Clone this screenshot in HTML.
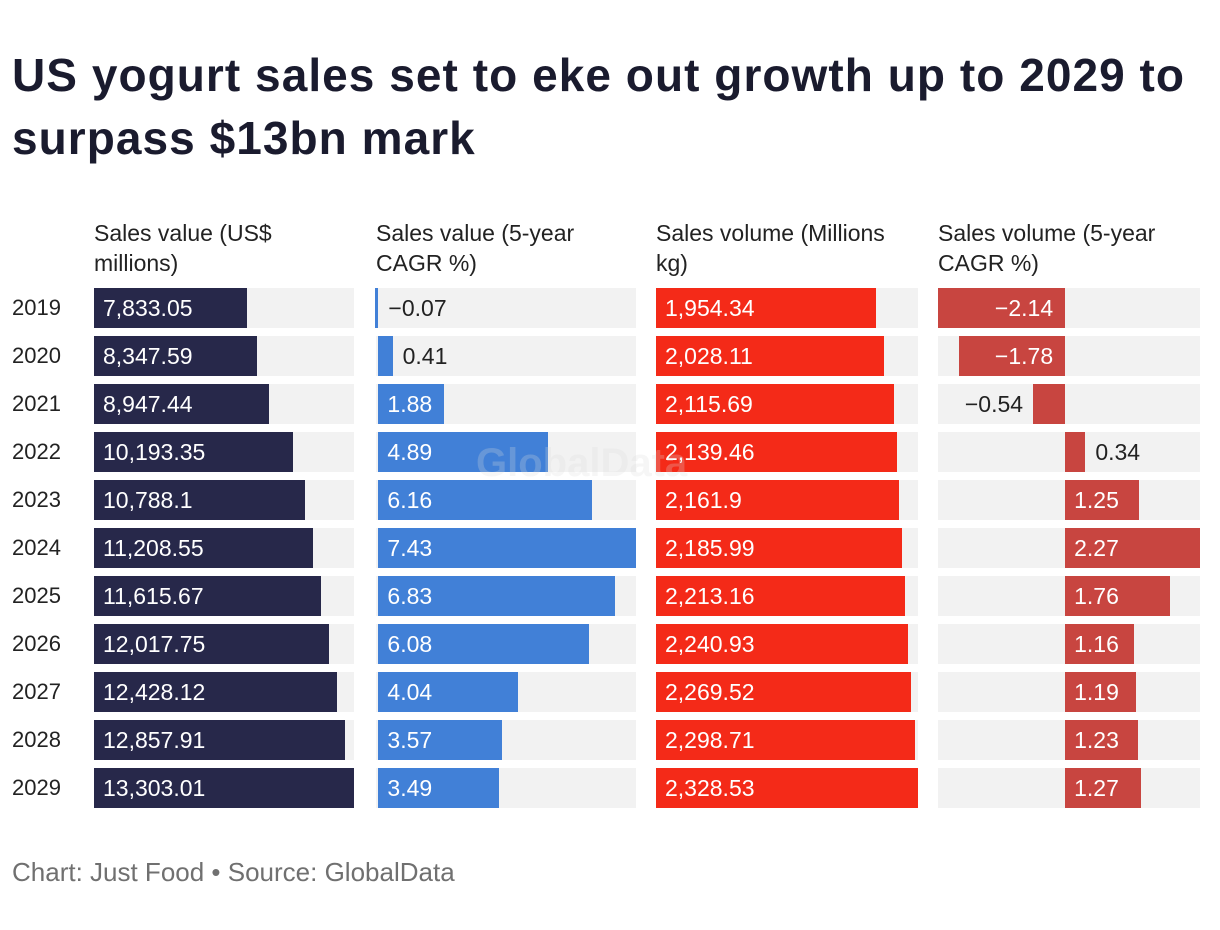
<!DOCTYPE html>
<html><head><meta charset="utf-8">
<style>
body{margin:0;background:#fff;font-family:"Liberation Sans",sans-serif;color:#222;}
#wrap{position:relative;width:1220px;height:930px;overflow:hidden;}
h1{position:absolute;left:12px;top:44px;margin:0;font-size:46px;line-height:63px;font-weight:bold;color:#1a1b2e;letter-spacing:1.05px;width:1210px;white-space:nowrap;}
.hdr{position:absolute;top:218px;font-size:23px;line-height:30px;color:#222;width:270px;white-space:nowrap;}
.yr{position:absolute;left:12px;font-size:22px;line-height:40px;color:#222;}
.bg{position:absolute;height:40px;background:#f2f2f2;}
.bar{position:absolute;height:40px;}
.lbl{position:absolute;font-size:23px;line-height:40px;white-space:nowrap;}
#foot{position:absolute;left:12px;top:857px;font-size:26px;color:#707070;}
#wm{position:absolute;left:476px;top:441px;font-size:40px;font-weight:bold;color:rgba(220,220,220,0.25);z-index:5;}
</style></head><body>
<div id="wrap">
<h1>US yogurt sales set to eke out growth up to 2029 to<br>surpass $13bn mark</h1>
<div id="wm">GlobalData</div>
<div id="foot">Chart: Just Food • Source: GlobalData</div>
</div>
<script>
const years=["2019","2020","2021","2022","2023","2024","2025","2026","2027","2028","2029"];
const salesValue=[7833.05,8347.59,8947.44,10193.35,10788.1,11208.55,11615.67,12017.75,12428.12,12857.91,13303.01];
const salesValueCagr=[-0.07,0.41,1.88,4.89,6.16,7.43,6.83,6.08,4.04,3.57,3.49];
const salesVolume=[1954.34,2028.11,2115.69,2139.46,2161.9,2185.99,2213.16,2240.93,2269.52,2298.71,2328.53];
const salesVolumeCagr=[-2.14,-1.78,-0.54,0.34,1.25,2.27,1.76,1.16,1.19,1.23,1.27];
const headers=[["Sales value (US$","millions)"],["Sales value (5-year","CAGR %)"],["Sales volume (Millions","kg)"],["Sales volume (5-year","CAGR %)"]];
const cols=[
 {vals:salesValue,x:94,w:260,color:"#27284a",fmt:v=>v.toLocaleString("en-US",{maximumFractionDigits:2}),name:"sales-value"},
 {vals:salesValueCagr,x:376,w:260,color:"#4180d7",fmt:v=>String(v),name:"sales-value-cagr"},
 {vals:salesVolume,x:656,w:262,color:"#f42a18",fmt:v=>v.toLocaleString("en-US",{maximumFractionDigits:2}),name:"sales-volume"},
 {vals:salesVolumeCagr,x:938,w:262,color:"#c84540",fmt:v=>String(v),name:"sales-volume-cagr"}
];
const wrap=document.getElementById('wrap');
const rowY=i=>288+i*48;
function mk(cls,parent){const d=document.createElement('div');d.className=cls;parent.appendChild(d);return d;}
years.forEach((y,i)=>{
 const d=mk('yr',wrap);d.style.top=rowY(i)+'px';d.textContent=y;
 
 
});
cols.forEach((c,ci)=>{
 const h=mk('hdr',wrap);h.style.left=c.x+'px';h.innerHTML=headers[ci][0]+'<br>'+headers[ci][1];
 
 
 const mn=Math.min(0,...c.vals),mx=Math.max(0,...c.vals);
 const sx=v=>c.x+(v-mn)/(mx-mn)*c.w;
 const z=sx(0);
 c.vals.forEach((v,i)=>{
  const y=rowY(i);
  const bg=mk('bg',wrap);bg.style.left=c.x+'px';bg.style.width=c.w+'px';bg.style.top=y+'px';
  
  
  const x0=Math.min(z,sx(v)),x1=Math.max(z,sx(v));
  let bw=Math.max(x1-x0,3);let bl=x0; if(v<0&&x1-x0<3)bl=z-3;
  const b=mk('bar',wrap);b.style.left=bl+'px';b.style.width=bw+'px';b.style.top=y+'px';b.style.background=c.color;
  
  
  const t=c.fmt(v).replace('-','\u2212');
  const l=mk('lbl',wrap);l.textContent=t;l.style.top=y+'px';
  
  
  const tw=t.length*11;
  if(v>=0){
   if(x1-x0>tw+12){l.style.left=(x0+9)+'px';l.style.color='#fff';}
   else{l.style.left=(x1+10)+'px';l.style.color='#222';}
  }else{
   if(x1-x0>tw+12){l.style.left=(x0+8)+'px';l.style.width=(x1-x0-20)+'px';l.style.textAlign='right';l.style.color='#fff';}
   else if(ci===1){l.style.left=(z+10)+'px';l.style.color='#222';}
   else{l.style.left=(x0-10-tw-10)+'px';l.style.width=(tw+10)+'px';l.style.textAlign='right';l.style.color='#222';}
  }
 });
});
</script>
</body></html>
